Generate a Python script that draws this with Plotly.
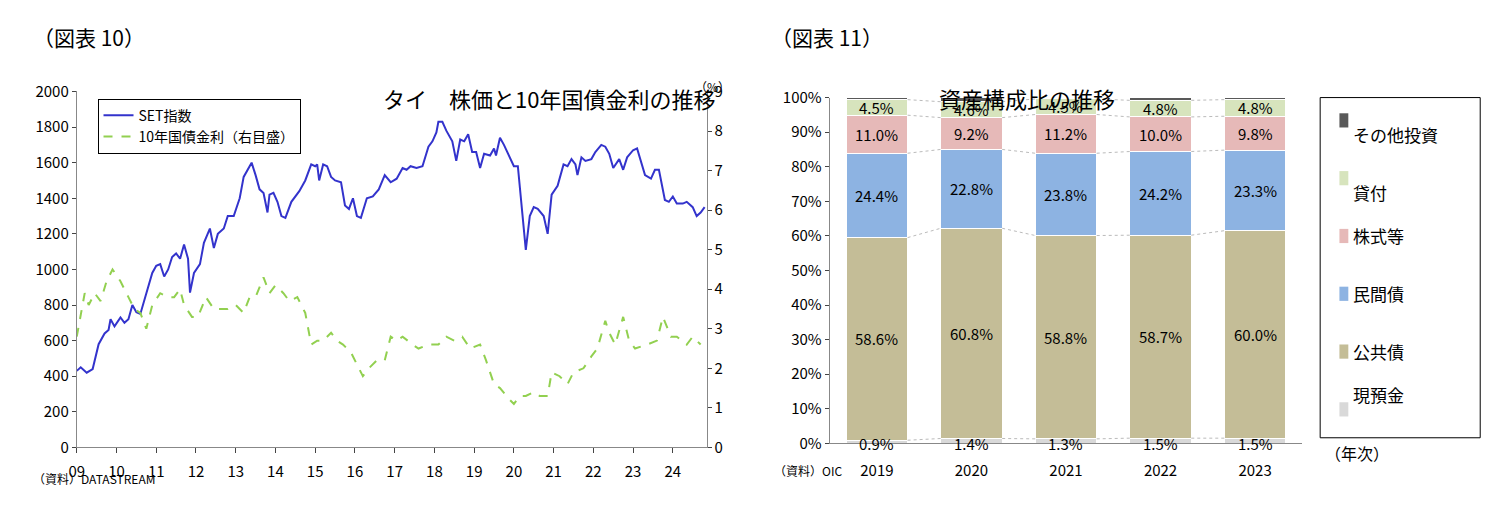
import plotly.graph_objects as go

FONT = "Noto Sans CJK JP"

# ---- left chart data: SET index and 10y yield ----
set_t = [2009.0, 2009.1, 2009.25, 2009.4, 2009.55, 2009.7, 2009.8, 2009.85, 2009.95, 2010.1, 2010.2, 2010.3,
         2010.4, 2010.5, 2010.6, 2010.75, 2010.9, 2011.0, 2011.1, 2011.2, 2011.3, 2011.4, 2011.5, 2011.6,
         2011.7, 2011.8, 2011.85, 2011.95, 2012.1, 2012.2, 2012.3, 2012.35, 2012.45, 2012.55, 2012.7, 2012.8,
         2012.95, 2013.1, 2013.2, 2013.3, 2013.4, 2013.5, 2013.6, 2013.7, 2013.8, 2013.85, 2013.95, 2014.05,
         2014.15, 2014.25, 2014.4, 2014.6, 2014.75, 2014.9, 2015.0, 2015.05, 2015.1, 2015.2, 2015.3, 2015.4,
         2015.5, 2015.65, 2015.75, 2015.85, 2015.95, 2016.05, 2016.15, 2016.3, 2016.45, 2016.6, 2016.75, 2016.9,
         2017.05, 2017.2, 2017.3, 2017.4, 2017.55, 2017.7, 2017.85, 2017.95, 2018.05, 2018.1, 2018.2, 2018.3,
         2018.45, 2018.55, 2018.65, 2018.75, 2018.85, 2018.95, 2019.05, 2019.15, 2019.25, 2019.4, 2019.5, 2019.55,
         2019.65, 2019.75, 2019.9, 2020.0, 2020.1, 2020.2, 2020.3, 2020.4, 2020.5, 2020.6, 2020.75, 2020.85,
         2020.95, 2021.1, 2021.25, 2021.35, 2021.45, 2021.55, 2021.6, 2021.7, 2021.8, 2021.95, 2022.05, 2022.2,
         2022.3, 2022.4, 2022.5, 2022.65, 2022.75, 2022.85, 2023.0, 2023.1, 2023.2, 2023.3, 2023.45, 2023.55,
         2023.65, 2023.8, 2023.9, 2024.0, 2024.1, 2024.25, 2024.35, 2024.5, 2024.6, 2024.7, 2024.8]
set_v = [430, 450, 420, 440, 580, 640, 660, 720, 680, 730, 700, 720,
         800, 760, 750, 860, 980, 1020, 1030, 960, 1000, 1070, 1090, 1060,
         1140, 1060, 870, 980, 1030, 1150, 1200, 1230, 1120, 1200, 1230, 1300,
         1300, 1400, 1520, 1560, 1600, 1530, 1450, 1430, 1320, 1420, 1430, 1380,
         1300, 1290, 1380, 1440, 1500, 1590, 1580, 1590, 1500, 1590, 1580, 1520,
         1500, 1490, 1360, 1340, 1400, 1300, 1290, 1400, 1410, 1450, 1530, 1490,
         1510, 1570, 1560, 1580, 1570, 1580, 1690, 1720, 1770, 1830, 1830, 1780,
         1720, 1610, 1730, 1720, 1760, 1660, 1660, 1570, 1650, 1640, 1680, 1640,
         1740, 1700, 1630, 1580, 1580, 1350, 1110, 1300, 1350, 1340, 1300, 1200,
         1420, 1470, 1590, 1580, 1620, 1590, 1530, 1630, 1610, 1620, 1660, 1700,
         1690, 1650, 1570, 1620, 1560, 1630, 1670, 1680, 1610, 1530, 1510, 1560,
         1560, 1390, 1380, 1410, 1370, 1370, 1380, 1350, 1300, 1320, 1350]

yld_t = [2009.0, 2009.1, 2009.2, 2009.3, 2009.45, 2009.6, 2009.75, 2009.9, 2010.1, 2010.3, 2010.45, 2010.6,
         2010.75, 2010.9, 2011.1, 2011.3, 2011.45, 2011.6, 2011.7, 2011.9, 2012.05, 2012.25, 2012.45, 2012.6,
         2012.8, 2013.0, 2013.2, 2013.35, 2013.5, 2013.7, 2013.85, 2014.0, 2014.2, 2014.35, 2014.55, 2014.75,
         2014.9, 2015.05, 2015.2, 2015.4, 2015.55, 2015.7, 2015.9, 2016.1, 2016.2, 2016.35, 2016.55, 2016.75,
         2016.9, 2017.05, 2017.2, 2017.45, 2017.6, 2017.85, 2018.1, 2018.3, 2018.5, 2018.7, 2018.9, 2019.15,
         2019.3, 2019.5, 2019.65, 2019.9, 2020.0, 2020.15, 2020.3, 2020.5, 2020.65, 2020.85, 2020.95, 2021.15,
         2021.35, 2021.5, 2021.75, 2021.95, 2022.1, 2022.3, 2022.4, 2022.55, 2022.75, 2022.9, 2023.05, 2023.35,
         2023.6, 2023.75, 2023.95, 2024.1, 2024.35, 2024.5, 2024.7]
yld_v = [2.8, 3.4, 3.9, 3.6, 3.9, 3.7, 4.2, 4.5, 4.2, 3.8, 3.5, 3.4,
         3.0, 3.6, 3.9, 3.8, 3.8, 4.0, 3.6, 3.3, 3.3, 3.8, 3.5, 3.5,
         3.5, 3.6, 3.4, 3.8, 3.8, 4.3, 3.9, 4.1, 3.9, 3.7, 3.8, 3.4,
         2.6, 2.7, 2.7, 2.9, 2.7, 2.6, 2.4, 2.0, 1.8, 2.0, 2.2, 2.2,
         2.8, 2.7, 2.8, 2.6, 2.5, 2.6, 2.6, 2.8, 2.7, 2.8, 2.5, 2.6,
         2.2, 1.6, 1.5, 1.2, 1.1, 1.3, 1.3, 1.4, 1.3, 1.3, 1.9, 1.8,
         1.6, 1.9, 2.0, 2.3, 2.5, 3.2, 2.9, 2.6, 3.3, 2.7, 2.5, 2.6,
         2.7, 3.3, 2.8, 2.8, 2.6, 2.8, 2.6]

year_ticks = list(range(2009, 2025))
year_labels = ["%02d" % (y % 100) for y in year_ticks]

# ---- right chart data: asset composition (%) ----
years = ["2019", "2020", "2021", "2022", "2023"]
cats = ["現預金", "公共債", "民間債", "株式等", "貸付", "その他投資"]
colors = ["#d9d9d9", "#c4bd97", "#8db3e2", "#e6b9b8", "#d7e4bd", "#595959"]
comp = {
    "現預金": [0.9, 1.4, 1.3, 1.5, 1.5],
    "公共債": [58.6, 60.8, 58.8, 58.7, 60.0],
    "民間債": [24.4, 22.8, 23.8, 24.2, 23.3],
    "株式等": [11.0, 9.2, 11.2, 10.0, 9.8],
    "貸付": [4.5, 4.6, 4.5, 4.8, 4.8],
}
comp["その他投資"] = [round(100 - sum(comp[c][i] for c in cats[:5]), 1) for i in range(len(years))]

fig = go.Figure()

fig.add_trace(go.Scatter(x=set_t, y=set_v, name="SET指数", mode="lines",
                         line=dict(color="#3333cc", width=2), xaxis="x", yaxis="y"))
fig.add_trace(go.Scatter(x=yld_t, y=yld_v, name="10年国債金利（右目盛）", mode="lines",
                         line=dict(color="#92d050", width=2, dash="dash"), xaxis="x", yaxis="y2"))

bw = 0.65
for c, col in zip(cats, colors):
    fig.add_trace(go.Bar(x=list(range(len(years))), y=comp[c], name=c, marker=dict(color=col, line=dict(color="white", width=1)),
                         width=bw, xaxis="x3", yaxis="y3", showlegend=False))

# dotted connector lines between bars
cx, cy = [], []
cum = [0.0] * len(years)
for c in cats[:5]:
    cum = [cum[i] + comp[c][i] for i in range(len(years))]
    for i in range(len(years) - 1):
        cx += [i + bw / 2, i + 1 - bw / 2, None]
        cy += [cum[i], cum[i + 1], None]
fig.add_trace(go.Scatter(x=cx, y=cy, mode="lines", line=dict(color="#bbbbbb", width=1, dash="dot"),
                         xaxis="x3", yaxis="y3", showlegend=False, hoverinfo="skip"))

annots = []
cum = [0.0] * len(years)
for c in cats[:5]:
    for i in range(len(years)):
        v = comp[c][i]
        ymid = cum[i] + v / 2 if c != "現預金" else 0
        annots.append(dict(x=i, y=ymid, xref="x3", yref="y3", text="%.1f%%" % v, showarrow=False,
                           font=dict(size=15, color="black")))
        cum[i] += v

# bar legend box
shapes = [dict(type="rect", xref="paper", yref="paper", x0=0.88, x1=0.988, y0=0.176, y1=0.847,
               line=dict(color="black", width=1))]
for k, (c, col) in enumerate(zip(cats[::-1], colors[::-1])):
    yy = 0.802 - k * 0.114
    shapes.append(dict(type="rect", xref="paper", yref="paper", x0=0.893, x1=0.899, y0=yy - 0.014, y1=yy + 0.014,
                       fillcolor=col, line=dict(width=0)))
    annots.append(dict(x=0.901, y=yy, xref="paper", yref="paper", text=c, showarrow=False, xanchor="left",
                       font=dict(size=17, color="black")))

annots += [
    dict(x=0.01, y=1.0, xref="paper", yref="paper", text="（図表 10）", showarrow=False, xanchor="left",
         yanchor="top", font=dict(size=21)),
    dict(x=0.508, y=1.0, xref="paper", yref="paper", text="（図表 11）", showarrow=False, xanchor="left",
         yanchor="top", font=dict(size=21)),
    dict(x=0.246, y=0.882, xref="paper", yref="paper", text="タイ　株価と10年国債金利の推移", showarrow=False,
         font=dict(size=22)),
    dict(x=0.743, y=0.882, xref="paper", yref="paper", text="資産構成比の推移", showarrow=False, font=dict(size=22)),
    dict(x=0.47, y=0.89, xref="paper", yref="paper", text="（%）", showarrow=False, font=dict(size=12)),
    dict(x=0.01, y=0.075, xref="paper", yref="paper", text="（資料）DATASTREAM", showarrow=False, xanchor="left",
         font=dict(size=12)),
    dict(x=0.51, y=0.09, xref="paper", yref="paper", text="（資料）OIC", showarrow=False, xanchor="left",
         font=dict(size=12)),
    dict(x=0.882, y=0.118, xref="paper", yref="paper", text="（年次）", showarrow=False, xanchor="left",
         font=dict(size=16)),
]

axfont = dict(size=15, color="black")
fig.update_layout(
    width=1490, height=528, margin=dict(l=0, r=0, t=0, b=0),
    paper_bgcolor="white", plot_bgcolor="white",
    font=dict(family=FONT, color="black"),
    xaxis=dict(domain=[0.041, 0.466], range=[2009, 2024.85], tickvals=year_ticks, ticktext=year_labels,
               ticks="outside", ticklen=5, showline=True, linecolor="#888", showgrid=False, tickfont=axfont,
               anchor="y", ticklabelstandoff=6),
    yaxis=dict(domain=[0.157, 0.859], range=[0, 2000], dtick=200, ticks="outside", ticklen=4, showline=True,
               linecolor="#888", showgrid=False, tickfont=axfont, zeroline=False),
    yaxis2=dict(overlaying="y", side="right", range=[0, 9], dtick=1, ticks="outside", ticklen=4, showline=True,
                linecolor="#888", showgrid=False, tickfont=axfont, anchor="x", zeroline=False),
    xaxis3=dict(domain=[0.549, 0.868], range=[-0.5, 4.5], tickvals=list(range(len(years))), ticktext=years,
                showline=True, linecolor="#888", showgrid=False, tickfont=axfont, anchor="y3", ticks="",
                ticklabelstandoff=14),
    yaxis3=dict(domain=[0.165, 0.847], range=[0, 100], dtick=10, ticksuffix="%", ticks="outside", ticklen=4,
                showline=True, linecolor="#888", showgrid=False, tickfont=axfont, anchor="x3", zeroline=False),
    barmode="stack", bargap=0.35,
    legend=dict(x=0.055, y=0.845, xanchor="left", yanchor="top", bordercolor="black", borderwidth=1,
                bgcolor="white", font=dict(size=14), traceorder="normal"),
    shapes=shapes, annotations=annots,
)

fig.write_html("out.html")
